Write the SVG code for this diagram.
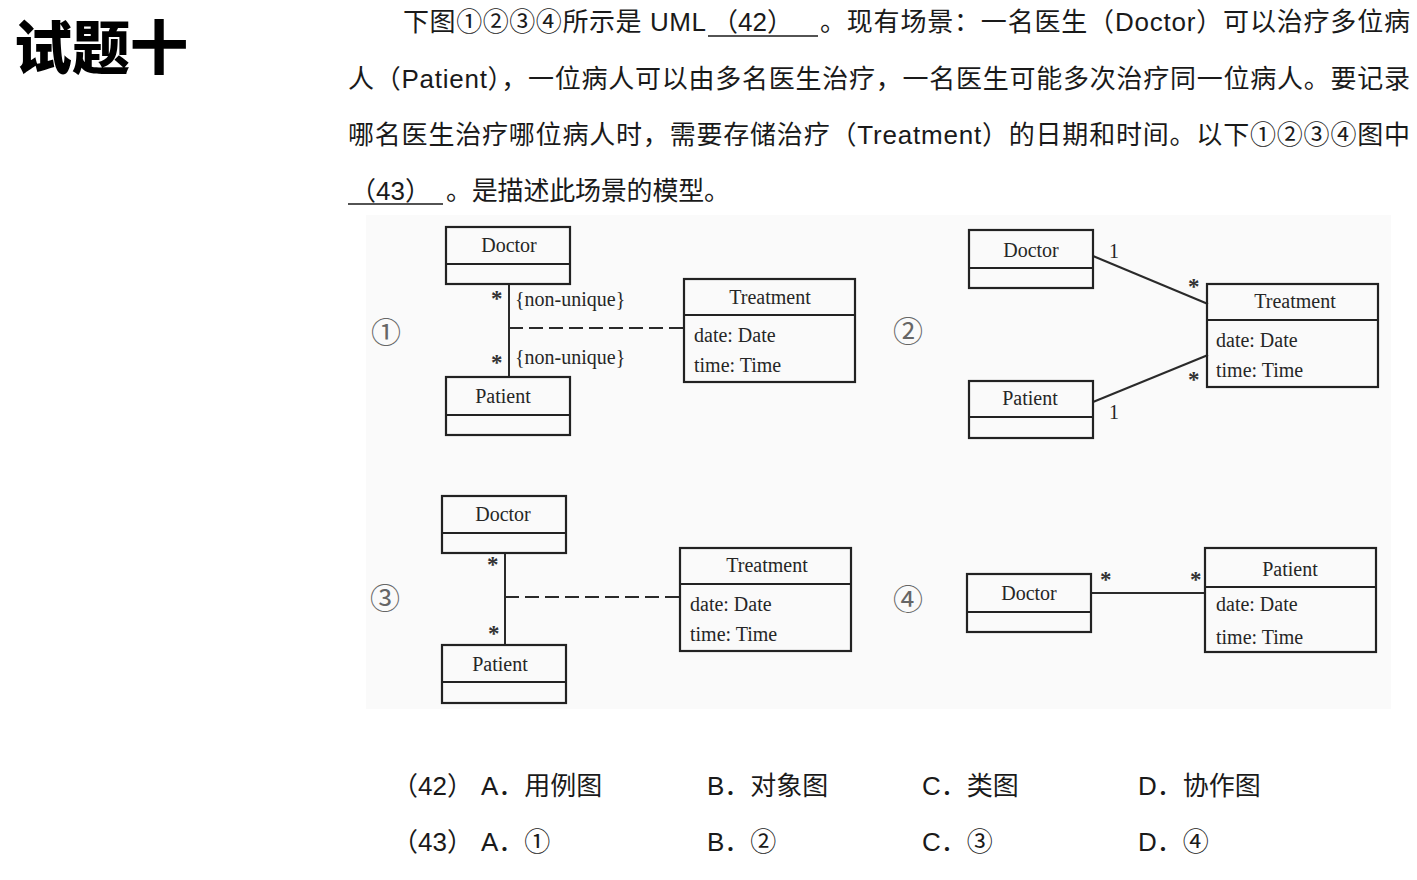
<svg xmlns="http://www.w3.org/2000/svg" width="1417" height="880" viewBox="0 0 1417 880">
<style>
.main{font-family:"Liberation Sans","Noto Sans CJK SC",sans-serif;font-size:26px;fill:#1a1a1a}
.title{font-family:"Noto Sans CJK SC",sans-serif;font-size:58px;font-weight:900;fill:#000}
.uml{font-family:"Liberation Serif","Noto Serif",serif;font-size:20px;fill:#262626}
.ast{font-family:"Liberation Serif",serif;font-size:23px;font-weight:bold;fill:#333}
.mid{text-anchor:middle}
.box{fill:none;stroke:#222;stroke-width:2.2}
.ln{stroke:#2a2a2a;stroke-width:2;fill:none}
.dash{stroke:#2a2a2a;stroke-width:2;stroke-dasharray:14 6;fill:none}
.num{font-family:"Noto Sans CJK SC",sans-serif;font-size:30px;fill:#666;text-anchor:middle}
.opt{font-family:"Liberation Sans","Noto Sans CJK SC",sans-serif;font-size:26px;fill:#1a1a1a}
.ul{stroke:#1a1a1a;stroke-width:1.6}
</style>
<rect width="1417" height="880" fill="#ffffff"/>
<rect x="366" y="215" width="1025" height="494" fill="#fafafa"/>
<text class="title" x="14" y="69">试题十</text>
<g id="question">
<text class="main" x="403" y="31" textLength="303" lengthAdjust="spacing">下图①②③④所示是 UML</text>
<text class="main" x="712" y="31">（42）</text>
<line class="ul" x1="708" y1="36" x2="818" y2="36"/>
<text class="main" x="820" y="31" textLength="590" lengthAdjust="spacing">。现有场景：一名医生（Doctor）可以治疗多位病</text>
<text class="main" x="348" y="88" textLength="1062" lengthAdjust="spacing">人（Patient），一位病人可以由多名医生治疗，一名医生可能多次治疗同一位病人。要记录</text>
<text class="main" x="348" y="144" textLength="1062" lengthAdjust="spacing">哪名医生治疗哪位病人时，需要存储治疗（Treatment）的日期和时间。以下①②③④图中</text>
<text class="main" x="350" y="200">（43）</text>
<line class="ul" x1="348" y1="204" x2="443" y2="204"/>
<text class="main" x="446" y="200" textLength="284" lengthAdjust="spacing">。是描述此场景的模型。</text>
</g>
<text class="num" x="386" y="343">①</text>
<text class="num" x="908" y="342">②</text>
<text class="num" x="385" y="609">③</text>
<text class="num" x="908" y="610">④</text>
<g id="connectors">
<line class="ln" x1="509" y1="284" x2="509" y2="377"/>
<line class="dash" x1="509" y1="328" x2="684" y2="328"/>
<line class="ln" x1="1093" y1="256" x2="1208" y2="304"/>
<line class="ln" x1="1093" y1="402" x2="1208" y2="355"/>
<line class="ln" x1="505" y1="553" x2="505" y2="645"/>
<line class="dash" x1="505" y1="597" x2="680" y2="597"/>
<line class="ln" x1="1092" y1="593" x2="1205" y2="593"/>
<text class="ast" x="491" y="306">*</text>
<text class="uml" x="515" y="306">{non-unique}</text>
<text class="ast" x="491" y="370">*</text>
<text class="uml" x="515" y="364">{non-unique}</text>
<text class="uml" x="1109" y="258">1</text>
<text class="ast" x="1188" y="294">*</text>
<text class="ast" x="1188" y="387">*</text>
<text class="uml" x="1109" y="419">1</text>
<text class="ast" x="487" y="572">*</text>
<text class="ast" x="488" y="641">*</text>
<text class="ast" x="1100" y="587">*</text>
<text class="ast" x="1190" y="587">*</text>
</g>
<g id="d1-doctor"><rect class="box" x="446" y="227" width="124" height="57"/><line class="box" x1="446" y1="264" x2="570" y2="264"/><text class="uml mid" x="509" y="252">Doctor</text></g>
<g id="d1-patient"><rect class="box" x="446" y="377" width="124" height="58"/><line class="box" x1="446" y1="415" x2="570" y2="415"/><text class="uml mid" x="503" y="403">Patient</text></g>
<g id="d1-treatment"><rect class="box" x="684" y="279" width="171" height="103"/><line class="box" x1="684" y1="315" x2="855" y2="315"/><text class="uml mid" x="770" y="304">Treatment</text><text class="uml" x="694" y="342">date: Date</text><text class="uml" x="694" y="372">time: Time</text></g>
<g id="d2-doctor"><rect class="box" x="969" y="230" width="124" height="58"/><line class="box" x1="969" y1="268" x2="1093" y2="268"/><text class="uml mid" x="1031" y="257">Doctor</text></g>
<g id="d2-patient"><rect class="box" x="969" y="381" width="124" height="57"/><line class="box" x1="969" y1="417" x2="1093" y2="417"/><text class="uml mid" x="1030" y="405">Patient</text></g>
<g id="d2-treatment"><rect class="box" x="1207" y="284" width="171" height="103"/><line class="box" x1="1207" y1="320" x2="1378" y2="320"/><text class="uml mid" x="1295" y="308">Treatment</text><text class="uml" x="1216" y="347">date: Date</text><text class="uml" x="1216" y="377">time: Time</text></g>
<g id="d3-doctor"><rect class="box" x="442" y="496" width="124" height="57"/><line class="box" x1="442" y1="533" x2="566" y2="533"/><text class="uml mid" x="503" y="521">Doctor</text></g>
<g id="d3-patient"><rect class="box" x="442" y="645" width="124" height="58"/><line class="box" x1="442" y1="682" x2="566" y2="682"/><text class="uml mid" x="500" y="671">Patient</text></g>
<g id="d3-treatment"><rect class="box" x="680" y="548" width="171" height="103"/><line class="box" x1="680" y1="584" x2="851" y2="584"/><text class="uml mid" x="767" y="572">Treatment</text><text class="uml" x="690" y="611">date: Date</text><text class="uml" x="690" y="641">time: Time</text></g>
<g id="d4-doctor"><rect class="box" x="967" y="574" width="124" height="58"/><line class="box" x1="967" y1="612" x2="1091" y2="612"/><text class="uml mid" x="1029" y="600">Doctor</text></g>
<g id="d4-patient"><rect class="box" x="1205" y="548" width="171" height="104"/><line class="box" x1="1205" y1="587" x2="1376" y2="587"/><text class="uml mid" x="1290" y="576">Patient</text><text class="uml" x="1216" y="611">date: Date</text><text class="uml" x="1216" y="644">time: Time</text></g>
<g id="options">
<text class="opt" x="392" y="795">（42）</text>
<text class="opt" x="481" y="795">A．用例图</text>
<text class="opt" x="707" y="795">B．对象图</text>
<text class="opt" x="922" y="795">C．类图</text>
<text class="opt" x="1138" y="795">D．协作图</text>
<text class="opt" x="392" y="851">（43）</text>
<text class="opt" x="481" y="851">A．①</text>
<text class="opt" x="707" y="851">B．②</text>
<text class="opt" x="922" y="851">C．③</text>
<text class="opt" x="1138" y="851">D．④</text>
</g>
</svg>
